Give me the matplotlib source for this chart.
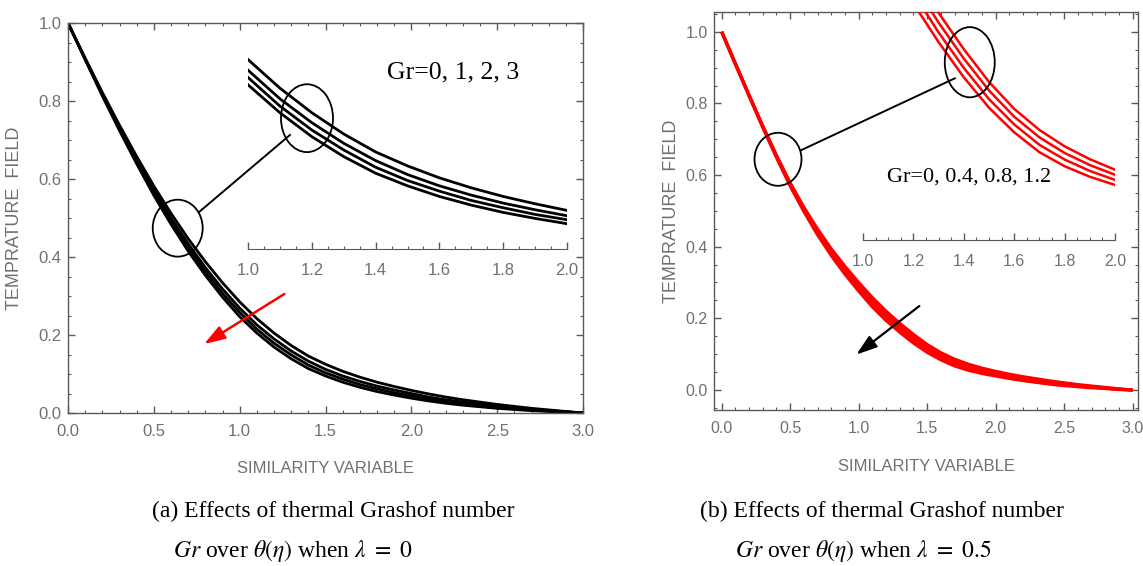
import matplotlib
matplotlib.use("Agg")
import matplotlib.pyplot as plt
from matplotlib.patches import Ellipse
from matplotlib.lines import Line2D
from matplotlib.ticker import MultipleLocator, FormatStrFormatter

plt.rcParams['font.family'] = ['Liberation Sans', 'DejaVu Sans']
plt.rcParams['mathtext.fontset'] = 'stix'

# similarity variable eta
eta = [0.0, 0.1, 0.2, 0.3, 0.4, 0.5, 0.6, 0.7, 0.8, 0.9, 1.0,
       1.1, 1.2, 1.3, 1.4, 1.5, 1.6, 1.7, 1.8, 1.9, 2.0,
       2.1, 2.2, 2.3, 2.4, 2.5, 2.6, 2.7, 2.8, 2.9, 3.0]

# (a) lambda = 0, Gr = 0, 1, 2, 3
theta_a_gr0 = [1.000, 0.910, 0.822, 0.738, 0.658, 0.582, 0.512, 0.447, 0.388, 0.334, 0.285,
               0.242, 0.205, 0.173, 0.146, 0.125, 0.107, 0.092, 0.079, 0.068, 0.058,
               0.049, 0.041, 0.034, 0.028, 0.022, 0.017, 0.012, 0.008, 0.004, 0.000]
theta_a_gr1 = [1.000, 0.908, 0.818, 0.732, 0.650, 0.572, 0.500, 0.434, 0.373, 0.318, 0.269,
               0.226, 0.190, 0.159, 0.133, 0.112, 0.095, 0.081, 0.069, 0.059, 0.050,
               0.041, 0.034, 0.028, 0.023, 0.018, 0.014, 0.009, 0.006, 0.003, 0.000]
theta_a_gr2 = [1.000, 0.907, 0.816, 0.728, 0.644, 0.565, 0.492, 0.424, 0.363, 0.307, 0.258,
               0.215, 0.179, 0.149, 0.123, 0.103, 0.087, 0.073, 0.062, 0.052, 0.044,
               0.036, 0.029, 0.024, 0.019, 0.015, 0.011, 0.008, 0.005, 0.003, 0.000]
theta_a_gr3 = [1.000, 0.906, 0.813, 0.724, 0.639, 0.558, 0.484, 0.415, 0.353, 0.297, 0.247,
               0.205, 0.169, 0.139, 0.114, 0.095, 0.079, 0.066, 0.055, 0.046, 0.038,
               0.031, 0.025, 0.020, 0.016, 0.012, 0.009, 0.006, 0.004, 0.002, 0.000]

# (b) lambda = 0.5, Gr = 0, 0.4, 0.8, 1.2
theta_b_gr0 = [1.000, 0.911, 0.823, 0.737, 0.655, 0.578, 0.510, 0.449, 0.394, 0.345, 0.300,
               0.258, 0.220, 0.186, 0.155, 0.127, 0.104, 0.086, 0.072, 0.061, 0.052,
               0.044, 0.037, 0.031, 0.025, 0.020, 0.015, 0.011, 0.007, 0.003, 0.000]
theta_b_gr1 = [1.000, 0.911, 0.822, 0.736, 0.653, 0.575, 0.506, 0.444, 0.388, 0.338, 0.2920,
               0.2493, 0.2113, 0.1777, 0.1470, 0.1197, 0.0973, 0.0797, 0.0663, 0.0560, 0.0477,
               0.0400, 0.033, 0.028, 0.022, 0.017, 0.013, 0.009, 0.006, 0.002, 0.000]
theta_b_gr2 = [1.000, 0.910, 0.822, 0.734, 0.651, 0.572, 0.502, 0.438, 0.381, 0.330, 0.2840,
               0.2407, 0.2027, 0.1693, 0.1390, 0.1123, 0.0907, 0.0733, 0.0607, 0.0510, 0.0433,
               0.0360, 0.030, 0.024, 0.019, 0.015, 0.011, 0.008, 0.005, 0.002, 0.000]
theta_b_gr3 = [1.000, 0.910, 0.821, 0.733, 0.649, 0.569, 0.498, 0.433, 0.375, 0.323, 0.2760,
               0.2320, 0.1940, 0.1610, 0.1310, 0.1050, 0.0840, 0.0670, 0.0550, 0.0460, 0.0390,
               0.0320, 0.026, 0.021, 0.016, 0.012, 0.009, 0.006, 0.004, 0.001, 0.000]

gr_label_a = "Gr=0, 1, 2, 3"
gr_label_b = "Gr=0, 0.4, 0.8, 1.2"
caption_a = ["(a) Effects of thermal Grashof number", r"$Gr$ over $\theta(\eta)$ when $\lambda\ =\ 0$"]
caption_b = ["(b) Effects of thermal Grashof number", r"$Gr$ over $\theta(\eta)$ when $\lambda\ =\ 0.5$"]
ylabel_txt = 'TEMPRATURE  FIELD'
xlabel_txt = 'SIMILARITY VARIABLE'

frame_color = '#5a5a5a'
label_color = '#707070'

fig = plt.figure(figsize=(11.43, 5.66), dpi=100)
ax1 = fig.add_axes([0.0595, 0.2703, 0.4506, 0.689])
ax2 = fig.add_axes([0.6247, 0.2756, 0.371, 0.7037])


def style_main(ax, tsize):
    for sp in ax.spines.values():
        sp.set_color(frame_color)
        sp.set_linewidth(1.0)
    ax.tick_params(which='both', direction='in', top=True, right=True,
                   color=frame_color, labelcolor=label_color, labelsize=tsize)
    ax.tick_params(which='major', length=5, width=1.0)
    ax.tick_params(which='minor', length=2.5, width=0.8)
    ax.tick_params(axis='x', which='both', pad=8)
    ax.tick_params(axis='y', which='both', pad=4.5)
    ax.xaxis.set_major_locator(MultipleLocator(0.5))
    ax.xaxis.set_minor_locator(MultipleLocator(0.1))
    ax.yaxis.set_major_locator(MultipleLocator(0.2))
    ax.yaxis.set_minor_locator(MultipleLocator(0.05))
    ax.xaxis.set_major_formatter(FormatStrFormatter('%.1f'))
    ax.yaxis.set_major_formatter(FormatStrFormatter('%.1f'))


def style_inset(ax, tsize):
    ax.patch.set_visible(False)
    for s in ['left', 'right', 'top']:
        ax.spines[s].set_visible(False)
    ax.spines['bottom'].set_color(frame_color)
    ax.set_yticks([])
    ax.tick_params(axis='x', which='both', direction='in', color=frame_color,
                   labelcolor=label_color, labelsize=tsize, pad=10)
    ax.tick_params(axis='x', which='major', length=5, width=1.0)
    ax.tick_params(axis='x', which='minor', length=2.5, width=0.8)
    ax.xaxis.set_major_locator(MultipleLocator(0.2))
    ax.xaxis.set_minor_locator(MultipleLocator(0.05))
    ax.xaxis.set_major_formatter(FormatStrFormatter('%.1f'))
    ax.set_xlim(1.0, 2.0)


# ---- panel (a)
for th in [theta_a_gr0, theta_a_gr1, theta_a_gr2, theta_a_gr3]:
    ax1.plot(eta, th, color='black', lw=2.0, solid_capstyle='butt')
ax1.set_xlim(0, 3)
ax1.set_ylim(0, 1)
style_main(ax1, 12)
ax1.set_xlabel(xlabel_txt, color=label_color, fontsize=12)
ax1.set_ylabel(ylabel_txt, color=label_color, fontsize=13)
ax1.xaxis.set_label_coords(0.5, -0.123)
ax1.yaxis.set_label_coords(-0.087, 0.5)

ins1 = fig.add_axes([0.217, 0.5601, 0.2791, 0.364])
for th in [theta_a_gr0, theta_a_gr1, theta_a_gr2, theta_a_gr3]:
    ins1.plot(eta, th, color='black', lw=2.0, solid_capstyle='butt')
ins1.set_ylim(0, 0.31)
style_inset(ins1, 12)

ax1.text(1.858, 0.858, gr_label_a, family='Liberation Serif', fontsize=18.5,
         ha='left', va='baseline')
ax1.annotate('', xy=(0.779, 0.173), xytext=(1.274, 0.309),
             arrowprops=dict(arrowstyle='-|>,head_length=0.9,head_width=0.3',
                             color='red', lw=1.8, mutation_scale=14))
fig.add_artist(Ellipse((0.639, 0.474), 0.291, 0.146, transform=ax1.transData,
                       fill=False, ec='black', lw=1.3))
fig.add_artist(Ellipse((1.392, 0.756), 0.303, 0.174, transform=ax1.transData,
                       fill=False, ec='black', lw=1.3))
fig.add_artist(Line2D([0.765, 1.293], [0.516, 0.713], transform=ax1.transData,
                      color='black', lw=1.4))

# ---- panel (b)
for th in [theta_b_gr0, theta_b_gr1, theta_b_gr2, theta_b_gr3]:
    ax2.plot(eta, th, color='#ff0000', lw=2.3, solid_capstyle='butt')
ax2.set_xlim(-0.056, 3.04)
ax2.set_ylim(-0.056, 1.056)
style_main(ax2, 11.5)
ax2.set_xlabel(xlabel_txt, color=label_color, fontsize=12)
ax2.set_ylabel(ylabel_txt, color=label_color, fontsize=13)
ax2.xaxis.set_label_coords(0.5, -0.123)
ax2.yaxis.set_label_coords(-0.080, 0.5)

ins2 = fig.add_axes([0.7550, 0.576, 0.2205, 0.4034])
for th in [theta_b_gr0, theta_b_gr1, theta_b_gr2, theta_b_gr3]:
    ins2.plot(eta, th, color='#ff0000', lw=1.8, solid_capstyle='butt')
ins2.set_ylim(-0.008, 0.187)
style_inset(ins2, 11.5)

ax2.text(1.206, 0.583, gr_label_b, family='Liberation Serif', fontsize=16,
         ha='left', va='baseline')
ax2.annotate('', xy=(0.967, 0.094), xytext=(1.459, 0.239),
             arrowprops=dict(arrowstyle='-|>,head_length=0.9,head_width=0.3',
                             color='black', lw=1.6, mutation_scale=14))
fig.add_artist(Ellipse((0.411, 0.644), 0.343, 0.148, transform=ax2.transData,
                       fill=False, ec='black', lw=1.3))
fig.add_artist(Ellipse((1.811, 0.915), 0.365, 0.196, transform=ax2.transData,
                       fill=False, ec='black', lw=1.3))
fig.add_artist(Line2D([0.583, 1.702], [0.670, 0.870], transform=ax2.transData,
                      color='black', lw=1.4))

# ---- captions
fig.text(0.133, 0.0972, caption_a[0], family='Liberation Serif', fontsize=17, va='center', ha='left')
fig.text(0.1514, 0.0265, caption_a[1], family='Liberation Serif', fontsize=17, va='center', ha='left')
fig.text(0.6124, 0.0972, caption_b[0], family='Liberation Serif', fontsize=17, va='center', ha='left')
fig.text(0.643, 0.0265, caption_b[1], family='Liberation Serif', fontsize=17, va='center', ha='left')

fig.savefig('out.png', dpi=100)
